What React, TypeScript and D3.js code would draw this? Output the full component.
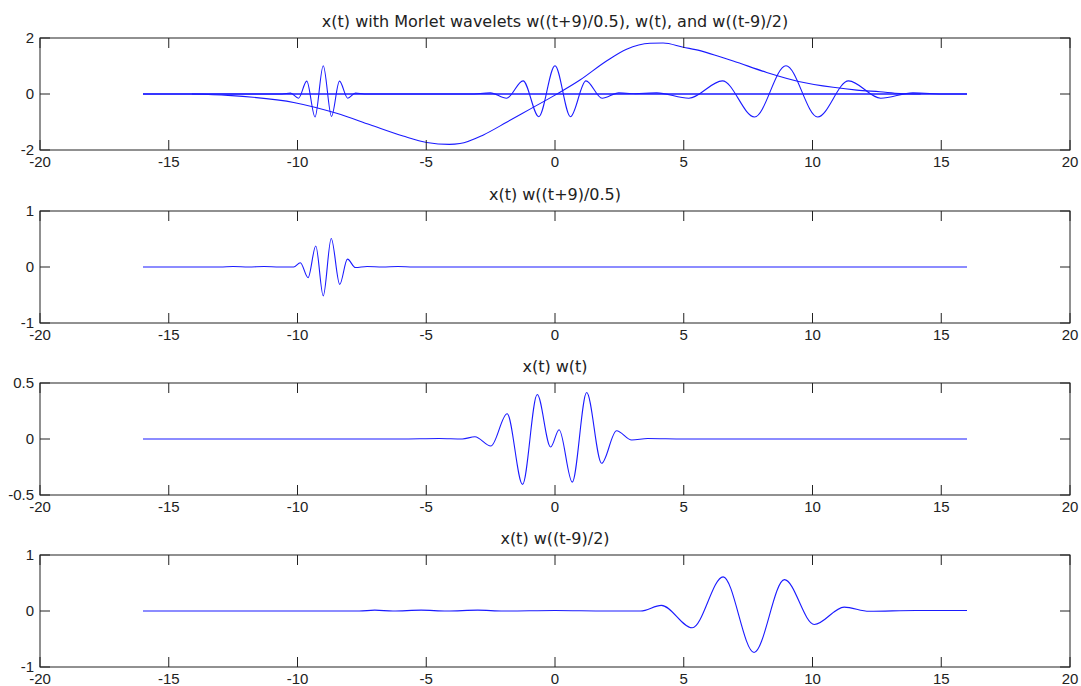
import React from "react";
import * as d3 from "d3";

// x(t) signal
const signalT = [-14.1, -12.7, -10.1, -8.48, -7.18, -5.9, -4.98, -4.1, -3.69, -2.78, -1.88, -0.97, 0, 0.97, 2.0, 2.78, 3.69, 4.2, 4.98, 5.63, 6.41, 6.92, 8.22, 9.51, 10.8, 11.72, 12.62, 13.4, 14.2];
const signalV = [0, -0.05, -0.31, -0.69, -1.1, -1.5, -1.73, -1.8, -1.77, -1.46, -1.01, -0.54, -0.04, 0.5, 1.18, 1.6, 1.81, 1.82, 1.67, 1.55, 1.33, 1.18, 0.77, 0.44, 0.24, 0.14, 0.08, 0.02, 0];

// Morlet wavelets w((t+9)/0.5), w(t), w((t-9)/2)
const waveAT = [-16, -10.6, -10.27, -9.96, -9.64, -9.32, -9.0, -8.68, -8.37, -8.05, -7.75, -7.4, 16];
const waveAV = [0, 0, 0.03, -0.15, 0.46, -0.82, 1.01, -0.8, 0.46, -0.15, 0.03, 0, 0];
const waveBT = [-16, -3.3, -2.51, -1.88, -1.24, -0.63, 0, 0.6, 1.2, 1.83, 2.48, 3.3, 16];
const waveBV = [0, 0, 0.04, -0.15, 0.47, -0.81, 1.01, -0.81, 0.47, -0.15, 0.04, 0, 0];
const waveCT = [-16, 2.6, 3.95, 5.2, 6.5, 7.75, 8.97, 10.2, 11.4, 12.65, 13.9, 15.2, 16];
const waveCV = [0, 0, 0.04, -0.15, 0.47, -0.82, 1.01, -0.82, 0.47, -0.15, 0.04, 0, 0];

// products x(t) * wavelet
const prodAT = [-16, -13.0, -12.5, -11.9, -11.3, -10.7, -10.15, -9.89, -9.59, -9.29, -9.0, -8.69, -8.36, -8.06, -7.75, -7.3, -6.7, -6.1, -5.5, -4.9, 16];
const prodAV = [0, 0, 0.01, 0, 0.01, 0, 0, 0.077, -0.19, 0.374, -0.516, 0.51, -0.31, 0.14, -0.01, 0.01, 0, 0.01, 0, 0, 0];
const prodBT = [-16, -6, -4.5, -3.6, -3.11, -2.49, -1.86, -1.26, -0.69, -0.17, 0.16, 0.67, 1.23, 1.81, 2.39, 2.98, 3.6, 5, 16];
const prodBV = [0, 0, 0.005, 0, 0.02, -0.063, 0.226, -0.405, 0.397, -0.072, 0.083, -0.385, 0.415, -0.217, 0.074, -0.009, 0.004, 0, 0];
const prodCT = [-16, -7.6, -7.0, -6.3, -5.2, -4.2, -3.0, -2.0, 0, 2.0, 3.33, 4.13, 5.33, 6.53, 7.73, 8.91, 10.07, 11.23, 12.2, 14, 16];
const prodCV = [0, 0, 0.015, 0, 0.015, 0, 0.015, 0, 0.01, 0, 0, 0.1, -0.3, 0.61, -0.74, 0.56, -0.24, 0.07, -0.005, 0.01, 0.01];

const xTicks = [-20, -15, -10, -5, 0, 5, 10, 15, 20];

const panels = [
  { title: "x(t) with Morlet wavelets w((t+9)/0.5), w(t), and w((t-9)/2)", yMax: 2, yTicks: [-2, 0, 2], lines: [[signalT, signalV], [waveAT, waveAV], [waveBT, waveBV], [waveCT, waveCV]] },
  { title: "x(t) w((t+9)/0.5)", yMax: 1, yTicks: [-1, 0, 1], lines: [[prodAT, prodAV]] },
  { title: "x(t) w(t)", yMax: 0.5, yTicks: [-0.5, 0, 0.5], lines: [[prodBT, prodBV]] },
  { title: "x(t) w((t-9)/2)", yMax: 1, yTicks: [-1, 0, 1], lines: [[prodCT, prodCV]] },
];

const width = 1081;
const height = 686;
const left = 40;
const right = 1070;
const panelTops = [38, 211, 383, 555];
const panelH = 112;
const tickLen = 10;
const font = "'Liberation Sans', Arial, sans-serif";
const titleFont = "'DejaVu Sans', sans-serif";
const ink = "#222";

const x = d3.scaleLinear().domain([-20, 20]).range([left, right]);

const Panel = ({ p, top }: { p: any; top: number }) => {
  const y = d3.scaleLinear().domain([-p.yMax, p.yMax]).range([top + panelH, top]);
  const line = d3
    .line<[number, number]>()
    .x((d) => x(d[0]))
    .y((d) => y(d[1]))
    .curve(d3.curveMonotoneX);
  const bottom = top + panelH;
  return (
    <g>
      <text x={x(0)} y={top - 11} textAnchor="middle" fontFamily={titleFont} fontSize={16} fill={ink}>
        {p.title}
      </text>
      {p.lines.map((l: number[][], i: number) => (
        <path
          key={i}
          d={line(l[0].map((t, j) => [t, l[1][j]] as [number, number])) || ""}
          fill="none"
          stroke="#1a1aff"
          strokeWidth={1.1}
        />
      ))}
      <rect x={left} y={top} width={right - left} height={panelH} fill="none" stroke={ink} strokeWidth={1} />
      {xTicks.map((t) => (
        <g key={t}>
          <line x1={x(t)} x2={x(t)} y1={bottom} y2={bottom - tickLen} stroke={ink} />
          <line x1={x(t)} x2={x(t)} y1={top} y2={top + tickLen} stroke={ink} />
          <text x={x(t)} y={bottom + 17} textAnchor="middle" fontFamily={font} fontSize={15} fill={ink}>
            {t}
          </text>
        </g>
      ))}
      {p.yTicks.map((v: number) => (
        <g key={v}>
          <line x1={left} x2={left + tickLen} y1={y(v)} y2={y(v)} stroke={ink} />
          <line x1={right} x2={right - tickLen} y1={y(v)} y2={y(v)} stroke={ink} />
          <text x={left - 6} y={y(v)} dy="0.35em" textAnchor="end" fontFamily={font} fontSize={15} fill={ink}>
            {v}
          </text>
        </g>
      ))}
    </g>
  );
};

export default function App() {
  return (
    <svg
      width={width}
      height={height}
      style={{ position: "absolute", left: 0, top: 0, background: "#fff" }}
    >
      <rect width={width} height={height} fill="#fff" />
      {panels.map((p, i) => (
        <Panel key={i} p={p} top={panelTops[i]} />
      ))}
    </svg>
  );
}
